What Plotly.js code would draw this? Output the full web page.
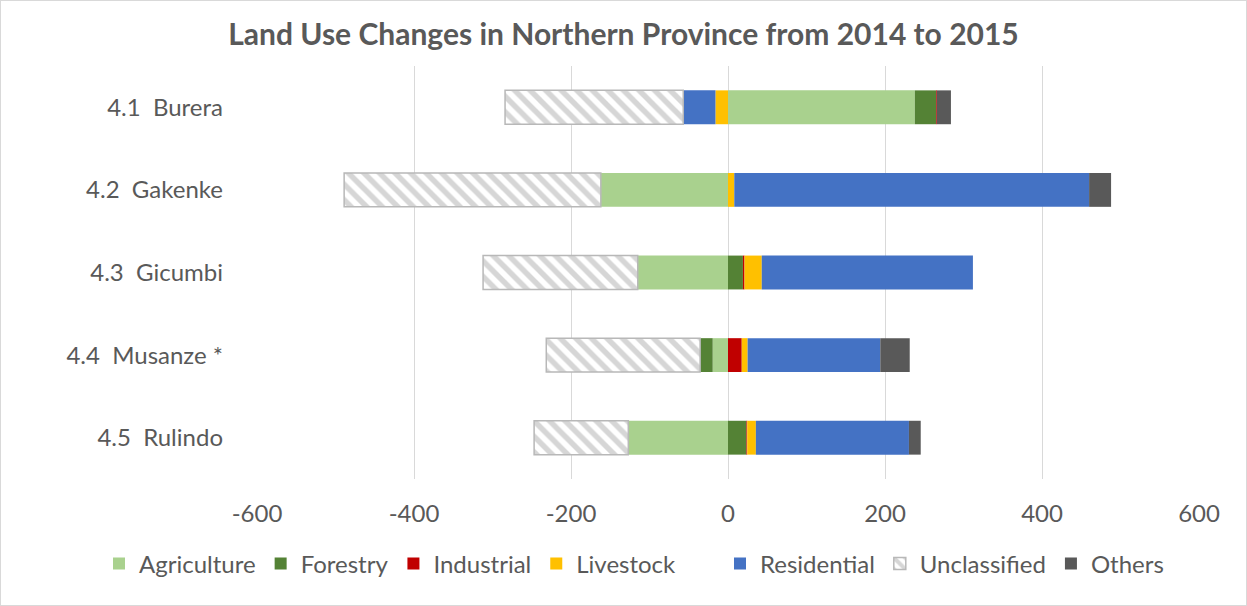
<!DOCTYPE html>
<html>
<head>
<meta charset="utf-8">
<script src="https://cdn.plot.ly/plotly-3.0.1.min.js"></script>
<style>
  html, body { margin: 0; padding: 0; background: #fff; }
  #chart { width: 1245px; height: 604px; border: 1px solid #d9d9d9; }
</style>
</head>
<body>
<div id="chart"></div>
<script>
const categories = ["4.1  Burera", "4.2  Gakenke", "4.3  Gicumbi", "4.4  Musanze *", "4.5  Rulindo"];
const agriculture  = [238, -162, -115, -19.5, -127];
const forestry     = [27, 0, 19, -16, 23.5];
const industrial   = [1, 0, 2, 17.5, 1];
const livestock    = [-16, 8, 22, 7.5, 11];
const residential  = [-41, 452, 269, 169, 195];
const unclassified = [-227, -327, -197, -196, -120];
const others       = [18, 28, 0, 37.5, 15];
const tickValues   = [-600, -400, -200, 0, 200, 400, 600];

const FONT = "Lato, 'Open Sans', sans-serif";
const GREY = "#595959";

function bar(name, x, color, legendId, extra) {
  return Object.assign({
    type: "bar", orientation: "h", name: name, x: x, y: categories,
    marker: { color: color, line: { width: 0 } },
    legend: legendId,
    hoverinfo: "x+name"
  }, extra || {});
}

const traces = [
  bar("Agriculture", agriculture, "#A9D18E", "legend"),
  bar("Forestry", forestry, "#548235", "legend"),
  bar("Industrial", industrial, "#C00000", "legend"),
  bar("Livestock", livestock, "#FFC000", "legend"),
  bar("Residential", residential, "#4472C4", "legend2"),
  bar("Unclassified", unclassified, "#ffffff", "legend2", {
    marker: {
      color: "#ffffff",
      line: { color: "#b8b8b8", width: 1.5 },
      pattern: { shape: "\\", fgcolor: "#adadad", bgcolor: "#ffffff", size: 11, solidity: 0.5, fillmode: "overlay" }
    }
  }),
  bar("Others", others, "#595959", "legend2")
];

const legendCommon = {
  orientation: "h",
  xref: "container", yref: "container",
  y: 1 - 563 / 604, yanchor: "middle",
  font: { family: FONT, size: 24, color: GREY },
  traceorder: "normal",
  itemwidth: 30,
  bgcolor: "rgba(0,0,0,0)"
};

const layout = {
  width: 1245, height: 604,
  paper_bgcolor: "#ffffff", plot_bgcolor: "#ffffff",
  font: { family: FONT, color: GREY, size: 24 },
  title: {
    text: "<b>Land Use Changes in Northern Province from 2014 to 2015</b>",
    font: { family: FONT, size: 30, color: GREY },
    x: 0.5, xanchor: "center", xref: "container",
    y: 1 - 33 / 604, yanchor: "middle", yref: "container"
  },
  barmode: "relative",
  bargap: 0.59,
  margin: { l: 256, r: 47, t: 65, b: 126 },
  xaxis: {
    range: [-600, 600],
    tickvals: tickValues,
    ticktext: tickValues.map(String),
    showgrid: true, gridcolor: "#d9d9d9", gridwidth: 1,
    zeroline: false, showline: false, ticks: "",
    ticklabelstandoff: 18,
    tickfont: { family: FONT, size: 24, color: GREY }
  },
  yaxis: {
    autorange: "reversed",
    showgrid: false, zeroline: false, showline: false, ticks: "",
    ticklabelstandoff: 33,
    tickfont: { family: FONT, size: 24, color: GREY }
  },
  legend: Object.assign({}, legendCommon, { x: 98 / 1245, xanchor: "left" }),
  legend2: Object.assign({}, legendCommon, { x: 1168 / 1245, xanchor: "right" }),
  showlegend: true
};

Plotly.newPlot("chart", traces, layout, { displayModeBar: false, staticPlot: true });
</script>
</body>
</html>
